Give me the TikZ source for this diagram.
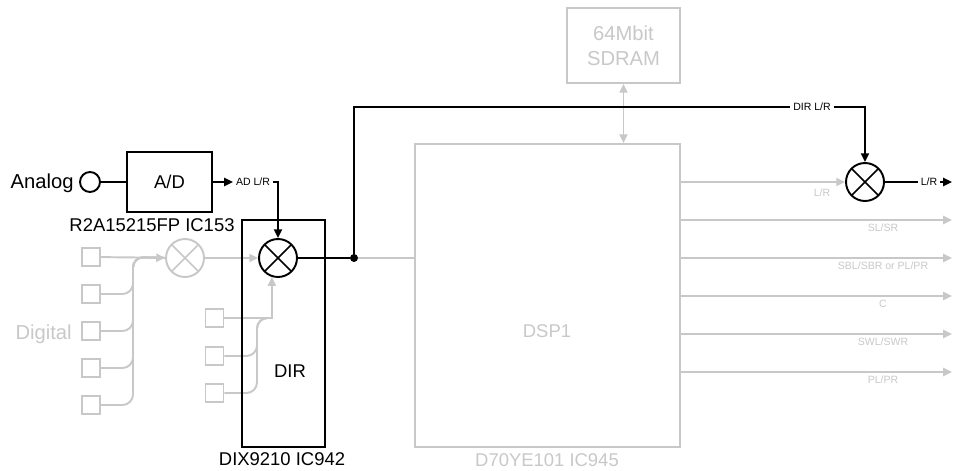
\documentclass[tikz,border=0pt]{standalone}
\usepackage{fontspec}
\setmainfont{Liberation Sans}
\definecolor{dspGray}{RGB}{200,200,200}
\usetikzlibrary{arrows.meta}

\begin{document}
\begin{tikzpicture}[x=0.02cm, y=-0.02cm,
    sig/.style={line width=1.1pt},
    sigarr/.style={sig, -{Triangle[length=5pt,width=4.6pt]}},
    gsig/.style={sig, draw=dspGray},
    gsigarr/.style={gsig, -{Triangle[length=5pt,width=4.6pt]}},
    blk/.style={rectangle, draw, line width=1.1pt, inner sep=0pt},
    gbox/.style={rectangle, draw=dspGray, line width=1.1pt, inner sep=0pt, text=dspGray},
    mix/.style={circle, draw=#1, line width=1.1pt, minimum size=0.76cm, inner sep=0pt,
                path picture={\draw[#1, line width=0.9pt]
                  (path picture bounding box.south west) -- (path picture bounding box.north east)
                  (path picture bounding box.north west) -- (path picture bounding box.south east);}},
    mix/.default=black,
    big/.style={font=\fontsize{11.5}{13}\selectfont, inner sep=0pt},
    ic/.style={font=\fontsize{10.5}{12}\selectfont},
    tiny/.style={font=\fontsize{6}{7}\selectfont, inner sep=1.5pt}
  ]
  \useasboundingbox (0,0) rectangle (953,470);

  % analog input
  \node[big, anchor=base east] (analog) at (74,188) {Analog};
  \node[circle, draw, line width=1.1pt, minimum size=0.4cm, inner sep=0pt] (ain) at (90,182) {};
  \node[blk, ic, minimum width=1.7cm, minimum height=1.2cm] (ad) at (169.5,182) {A/D};
  \node[ic] (adic) at (152,225) {R2A15215FP IC153};
  \draw[sig] (ain) -- (ad);

  % digital inputs
  \node[big, anchor=base east, text=dspGray] (digital) at (72,339) {Digital};
  \foreach \i in {1,...,5}
    \node[gbox, minimum size=0.36cm] (d\i) at (91,{257+37*(\i-1)}) {};
  \node[mix=dspGray] (gmult) at (185,258) {};
  \coordinate (dj) at (133,257);
  \foreach \i in {2,...,5}
    \draw[gsig, rounded corners=6pt] (d\i.east) -| (dj) -- (gmult.west);
  \draw[gsigarr] (d1) -- (gmult);

  % DIR
  \node[mix] (dirmult) at (278,258) {};
  \foreach \i/\y in {1/318,2/356,3/393}
    \node[gbox, minimum size=0.36cm] (s\i) at (214.5,\y) {};
  \coordinate (sj) at (257,318);
  \foreach \i in {2,3}
    \draw[gsig, rounded corners=6pt] (s\i.east) -| (sj) -- ++(12,0);
  \draw[gsigarr] (s1.east) -| (dirmult.252);
  \draw[gsigarr] (gmult) -- (dirmult);
  \node[blk, minimum width=1.66cm, minimum height=4.54cm] (dirbox) at (283.5,333.5) {};
  \node[ic] (dirtxt) at (290,371) {DIR};
  \node[ic] (dixic) at (282,459) {DIX9210 IC942};

  \node[tiny] (adl) at (253,182) {AD L/R};
  \draw[sigarr] (ad) -- (adl);
  \draw[sigarr] (adl.east) -| (dirmult.north);

  % DSP and SDRAM
  \node[gbox, minimum width=5.3cm, minimum height=6.06cm] (dsp) at (547.5,295.5) {};
  \node[ic, text=dspGray] (dsptxt) at (547,331) {DSP1};
  \node[ic, text=dspGray] (dspic) at (547,460) {D70YE101 IC945};
  \node[gbox, align=center, font=\fontsize{11.5}{14}\selectfont,
        minimum width=2.26cm, minimum height=1.5cm] (sdram) at (623.5,45.5) {64Mbit\\SDRAM};
  \draw[gsig, {Triangle[length=5pt,width=4.6pt]}-{Triangle[length=5pt,width=4.6pt]}]
    (sdram.south) -- (sdram.south |- dsp.north);

  \node[circle, fill, inner sep=0pt, minimum size=0.16cm] (jn) at (354,258) {};
  \draw[sig] (dirmult) -- (jn);
  \draw[gsig] (jn) -- (dsp.west |- jn);

  % output mixer
  \node[mix] (outmult) at (865,182) {};
  \node[tiny] (dirl) at (812,107) {DIR L/R};
  \draw[sig] (jn.center) |- (dirl.west);
  \draw[sigarr] (dirl.east) -| (outmult.north);
  \draw[gsigarr] (dsp.east |- outmult) -- (outmult.west);
  \node[tiny, text=dspGray] (lrin) at (822,193) {L/R};
  \node[tiny] (lrout) at (929,182) {L/R};
  \coordinate (lrend) at (952,182);
  \draw[sig] (outmult) -- (lrout);
  \draw[sigarr] (lrout) -- (lrend);

  % other outputs
  \foreach \y/\t [count=\i] in {220/{SL/SR},258/{SBL/SBR or PL/PR},296/{C},334/{SWL/SWR},372/{PL/PR}} {
    \coordinate (o\i) at (952,\y);
    \draw[gsigarr] (dsp.east |- o\i) -- (o\i);
    \node[tiny, text=dspGray] (ol\i) at (883,\y+8) {\t};
  }
\end{tikzpicture}
\end{document}
